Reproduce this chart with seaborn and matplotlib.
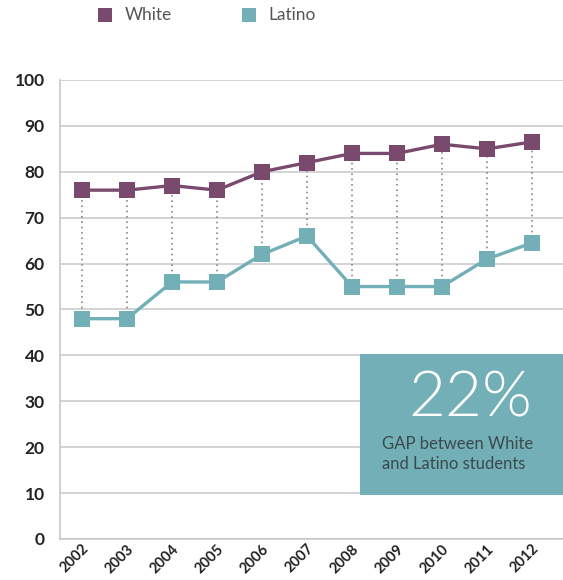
import seaborn as sns
import matplotlib.pyplot as plt
import matplotlib.patches as mpatches
import pandas as pd

years = [2002, 2003, 2004, 2005, 2006, 2007, 2008, 2009, 2010, 2011, 2012]
white = [76, 76, 77, 76, 80, 82, 84, 84, 86, 85, 86.5]
latino = [48, 48, 56, 56, 62, 66, 55, 55, 55, 61, 64.5]
groups = ["White", "Latino"]
colors = ["#7a4a6e", "#72afb6"]
yticks = [0, 10, 20, 30, 40, 50, 60, 70, 80, 90, 100]

df = pd.DataFrame({
    "Year": years * 2,
    "Score": white + latino,
    "Group": ["White"] * len(years) + ["Latino"] * len(years),
})

sns.set_theme(style="white")
plt.rcParams["font.family"] = ["Lato", "DejaVu Sans"]

fig = plt.figure(figsize=(5.63, 5.8), dpi=100)
ax = fig.add_axes([0.1066, 0.0707, 0.8934, 0.7914])

# dotted gap lines behind the series
ax.vlines(years, latino, white, colors="#888888", linestyles=(0, (1, 2.2)), linewidth=1.2, zorder=1)

sns.lineplot(data=df, x="Year", y="Score", hue="Group", hue_order=groups,
             palette=colors, marker="s", markersize=11, markeredgewidth=0,
             linewidth=2.4, legend=False, ax=ax, zorder=3)

ax.set_xlim(2001.51, 2012.69)
ax.set_ylim(0, 100)
ax.set_yticks(yticks)
ax.set_xticks(years)
ax.set_xticklabels([str(y) for y in years], rotation=45, ha="right", rotation_mode="anchor",
                   fontsize=10.5, fontweight="bold", color="#222222")
ax.set_yticklabels([str(y) for y in yticks], fontsize=12.5, fontweight="bold", color="#222222")
ax.tick_params(axis="y", length=0, pad=11)
ax.tick_params(axis="x", length=0, pad=2)
ax.set_xlabel("")
ax.set_ylabel("")
ax.yaxis.grid(True, color="#cccccc", linewidth=1.2)
for s in ["top", "right"]:
    ax.spines[s].set_visible(False)
for s in ["left", "bottom"]:
    ax.spines[s].set_color("#c8c8c8")
    ax.spines[s].set_linewidth(1.2)

# gap callout box
ax.add_patch(mpatches.Rectangle((0.597, 0.096), 0.403, 0.308, transform=ax.transAxes,
                                facecolor="#72afb6", edgecolor="none", zorder=4))
ax.text(0.815, 0.305, "22%", transform=ax.transAxes, ha="center", va="center",
        fontsize=46, fontweight=300, color="white", zorder=5)
ax.text(0.64, 0.185, "GAP between White\nand Latino students", transform=ax.transAxes,
        ha="left", va="center", fontsize=12, color="#3a4a4c", linespacing=1.3, zorder=5)

# legend at top
fig.patches.append(mpatches.Rectangle((98 / 563, 1 - 22 / 580), 14 / 563, 14 / 580,
                                      transform=fig.transFigure, facecolor=colors[0], edgecolor="none"))
fig.text(125 / 563, 1 - 15 / 580, "White", ha="left", va="center", fontsize=12.5, color="#555555")
fig.patches.append(mpatches.Rectangle((242 / 563, 1 - 22 / 580), 14 / 563, 14 / 580,
                                      transform=fig.transFigure, facecolor=colors[1], edgecolor="none"))
fig.text(268 / 563, 1 - 15 / 580, "Latino", ha="left", va="center", fontsize=12.5, color="#555555")

fig.savefig("out.png", dpi=100)
